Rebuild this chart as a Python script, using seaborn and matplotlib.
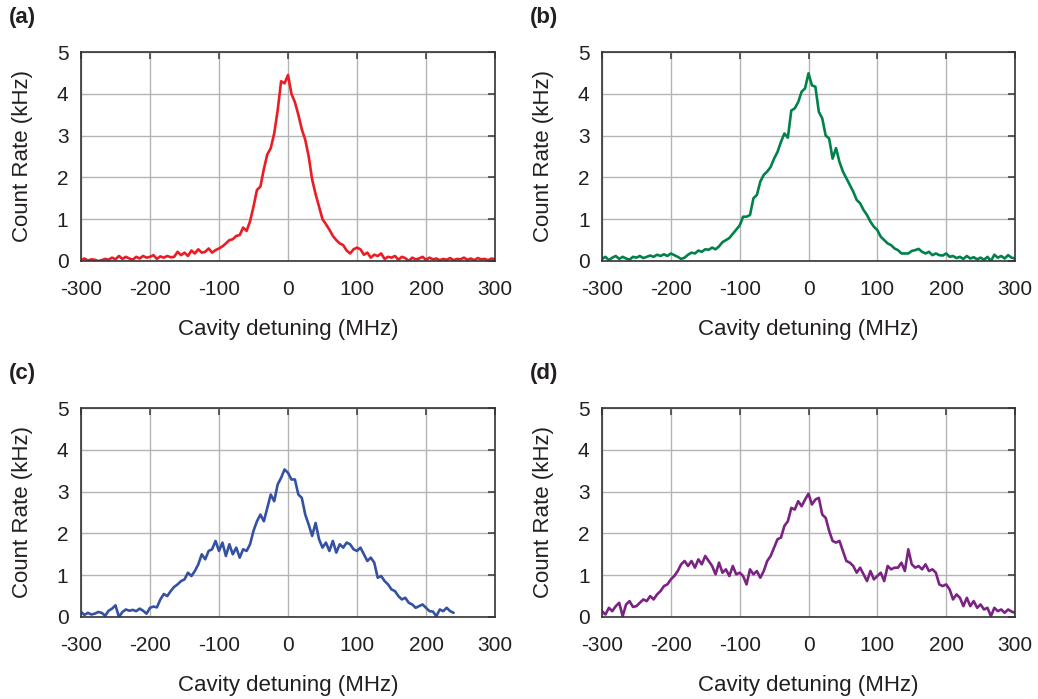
import matplotlib
matplotlib.use("Agg")
from matplotlib import pyplot as plt
import seaborn as sns
import pandas as pd

# detuning grid (MHz), shared by all panels; panel (c) stops at 240 MHz
detuning = [-300, -295, -290, -285, -280, -275, -270, -265, -260, -255,
            -250, -245, -240, -235, -230, -225, -220, -215, -210, -205,
            -200, -195, -190, -185, -180, -175, -170, -165, -160, -155,
            -150, -145, -140, -135, -130, -125, -120, -115, -110, -105,
            -100, -95, -90, -85, -80, -75, -70, -65, -60, -55,
            -50, -45, -40, -35, -30, -25, -20, -15, -10, -5,
            0, 5, 10, 15, 20, 25, 30, 35, 40, 45,
            50, 55, 60, 65, 70, 75, 80, 85, 90, 95,
            100, 105, 110, 115, 120, 125, 130, 135, 140, 145,
            150, 155, 160, 165, 170, 175, 180, 185, 190, 195,
            200, 205, 210, 215, 220, 225, 230, 235, 240, 245,
            250, 255, 260, 265, 270, 275, 280, 285, 290, 295,
            300]

# count rates (kHz)
rate_a = [0.02, 0.06, 0.01, 0.04, 0.03, 0.00, 0.02, 0.05, 0.03, 0.08,
          0.04, 0.12, 0.05, 0.10, 0.06, 0.03, 0.10, 0.06, 0.12, 0.08,
          0.10, 0.14, 0.05, 0.11, 0.08, 0.12, 0.09, 0.10, 0.22, 0.14,
          0.20, 0.12, 0.25, 0.18, 0.28, 0.20, 0.22, 0.30, 0.20, 0.26,
          0.30, 0.35, 0.42, 0.50, 0.52, 0.60, 0.62, 0.80, 0.72, 0.95,
          1.30, 1.70, 1.78, 2.20, 2.55, 2.70, 3.05, 3.60, 4.30, 4.25,
          4.45, 4.00, 3.80, 3.50, 3.15, 2.90, 2.50, 1.95, 1.60, 1.30,
          1.00, 0.88, 0.75, 0.60, 0.50, 0.42, 0.38, 0.25, 0.18, 0.28,
          0.32, 0.28, 0.15, 0.20, 0.08, 0.15, 0.12, 0.18, 0.05, 0.10,
          0.08, 0.12, 0.03, 0.10, 0.07, 0.00, 0.08, 0.04, 0.06, 0.10,
          0.03, 0.08, 0.04, 0.06, 0.02, 0.05, 0.03, 0.07, 0.02, 0.05,
          0.04, 0.08, 0.03, 0.06, 0.02, 0.07, 0.04, 0.05, 0.02, 0.06,
          0.04]

rate_b = [0.05, 0.10, 0.02, 0.08, 0.12, 0.05, 0.10, 0.06, 0.03, 0.10,
          0.08, 0.12, 0.07, 0.10, 0.13, 0.10, 0.15, 0.12, 0.16, 0.12,
          0.18, 0.14, 0.10, 0.05, 0.08, 0.15, 0.20, 0.18, 0.25, 0.22,
          0.28, 0.27, 0.32, 0.28, 0.35, 0.45, 0.50, 0.55, 0.65, 0.75,
          0.85, 1.06, 1.06, 1.10, 1.50, 1.58, 1.90, 2.06, 2.14, 2.25,
          2.45, 2.61, 2.85, 3.05, 2.95, 3.60, 3.65, 3.80, 4.05, 4.13,
          4.49, 4.20, 4.17, 3.57, 3.41, 3.00, 2.93, 2.45, 2.70, 2.37,
          2.14, 1.98, 1.82, 1.66, 1.46, 1.38, 1.22, 1.10, 0.94, 0.82,
          0.74, 0.58, 0.50, 0.42, 0.38, 0.30, 0.26, 0.18, 0.18, 0.18,
          0.24, 0.26, 0.29, 0.22, 0.18, 0.22, 0.14, 0.18, 0.14, 0.13,
          0.18, 0.10, 0.12, 0.07, 0.10, 0.05, 0.12, 0.06, 0.09, 0.04,
          0.08, 0.03, 0.10, 0.00, 0.15, 0.08, 0.12, 0.06, 0.14, 0.08,
          0.06]

rate_c = [0.12, 0.05, 0.10, 0.06, 0.08, 0.12, 0.10, 0.03, 0.15, 0.20,
          0.28, 0.00, 0.12, 0.18, 0.15, 0.17, 0.14, 0.20, 0.15, 0.08,
          0.22, 0.25, 0.23, 0.42, 0.55, 0.50, 0.62, 0.72, 0.78, 0.86,
          0.90, 1.06, 0.98, 1.10, 1.26, 1.50, 1.38, 1.58, 1.62, 1.82,
          1.58, 1.78, 1.46, 1.74, 1.50, 1.66, 1.42, 1.62, 1.58, 1.74,
          2.06, 2.29, 2.45, 2.29, 2.61, 2.93, 2.77, 3.17, 3.33, 3.53,
          3.45, 3.29, 3.29, 2.93, 2.85, 2.45, 2.21, 1.94, 2.25, 1.86,
          1.66, 1.78, 1.58, 1.82, 1.54, 1.74, 1.66, 1.78, 1.74, 1.62,
          1.58, 1.66, 1.50, 1.34, 1.42, 1.30, 0.94, 0.98, 0.86, 0.78,
          0.66, 0.62, 0.50, 0.42, 0.46, 0.34, 0.30, 0.22, 0.26, 0.30,
          0.22, 0.14, 0.13, 0.02, 0.18, 0.14, 0.22, 0.14, 0.10]

rate_d = [0.14, 0.06, 0.22, 0.14, 0.26, 0.34, 0.02, 0.30, 0.38, 0.24,
          0.26, 0.34, 0.42, 0.38, 0.50, 0.42, 0.54, 0.62, 0.74, 0.78,
          0.90, 0.98, 1.10, 1.26, 1.34, 1.22, 1.34, 1.18, 1.38, 1.26,
          1.46, 1.34, 1.22, 1.02, 1.30, 1.06, 1.14, 0.98, 1.22, 1.02,
          1.06, 0.98, 0.78, 1.14, 1.02, 1.10, 0.94, 1.10, 1.34, 1.46,
          1.66, 1.86, 1.90, 2.18, 2.29, 2.61, 2.57, 2.77, 2.65, 2.81,
          2.95, 2.69, 2.81, 2.85, 2.45, 2.37, 2.06, 1.82, 1.78, 1.82,
          1.58, 1.34, 1.30, 1.22, 1.06, 1.18, 1.02, 0.86, 1.10, 0.90,
          0.98, 1.06, 0.86, 1.22, 1.14, 1.18, 1.18, 1.30, 1.10, 1.62,
          1.26, 1.18, 1.22, 1.14, 1.26, 1.10, 1.14, 1.06, 0.78, 0.74,
          0.78, 0.66, 0.42, 0.54, 0.46, 0.26, 0.46, 0.26, 0.38, 0.22,
          0.30, 0.18, 0.22, 0.02, 0.22, 0.14, 0.18, 0.10, 0.18, 0.13,
          0.10]

panel_labels = ["(a)", "(b)", "(c)", "(d)"]
colors = ["#ec1c24", "#00824a", "#3451a3", "#7b2383"]
x_ticks = [-300, -200, -100, 0, 100, 200, 300]
y_ticks = [0, 1, 2, 3, 4, 5]

sns.set_theme(style="white")
plt.rcParams["font.family"] = ["Liberation Sans", "DejaVu Sans"]
plt.rcParams["axes.unicode_minus"] = False

fig = plt.figure(figsize=(10.38, 6.99), dpi=100)
W, H = 1038, 699
# axes boxes in pixels: left, top, right, bottom
boxes = [(81, 52, 495, 261), (602, 52, 1015, 261),
         (81, 408, 495, 617), (602, 408, 1015, 617)]
series = [rate_a, rate_b, rate_c, rate_d]
text_color = "#231f20"

for i in range(4):
    l, t, r, b = boxes[i]
    ax = fig.add_axes([l / W, 1 - b / H, (r - l) / W, (b - t) / H])
    df = pd.DataFrame({"x": detuning[:len(series[i])], "y": series[i]})
    sns.lineplot(data=df, x="x", y="y", ax=ax, color=colors[i], linewidth=1.9)
    ax.set_xlim(-300, 300)
    ax.set_ylim(0, 5)
    ax.set_xticks(x_ticks)
    ax.set_yticks(y_ticks)
    ax.grid(True, color="#b4b4b4", linewidth=1.0)
    ax.set_axisbelow(True)
    ax.tick_params(direction="in", length=5, width=1.2, color="#444444",
                   top=True, right=True, labelsize=15, labelcolor=text_color)
    ax.tick_params(axis="x", pad=14)
    ax.tick_params(axis="y", pad=9)
    for s in ax.spines.values():
        s.set_color("#333333")
        s.set_linewidth(1.2)
        s.set_visible(True)
    ax.set_xlabel("Cavity detuning (MHz)", fontsize=16, color=text_color, labelpad=14)
    ax.set_ylabel("Count Rate (kHz)", fontsize=16, color=text_color, labelpad=17)
    fig.text((l - 72) / W, 1 - (t - 35) / H, panel_labels[i], fontsize=16,
             fontweight="bold", color=text_color, ha="left", va="center")

fig.savefig("out.png", dpi=100)
